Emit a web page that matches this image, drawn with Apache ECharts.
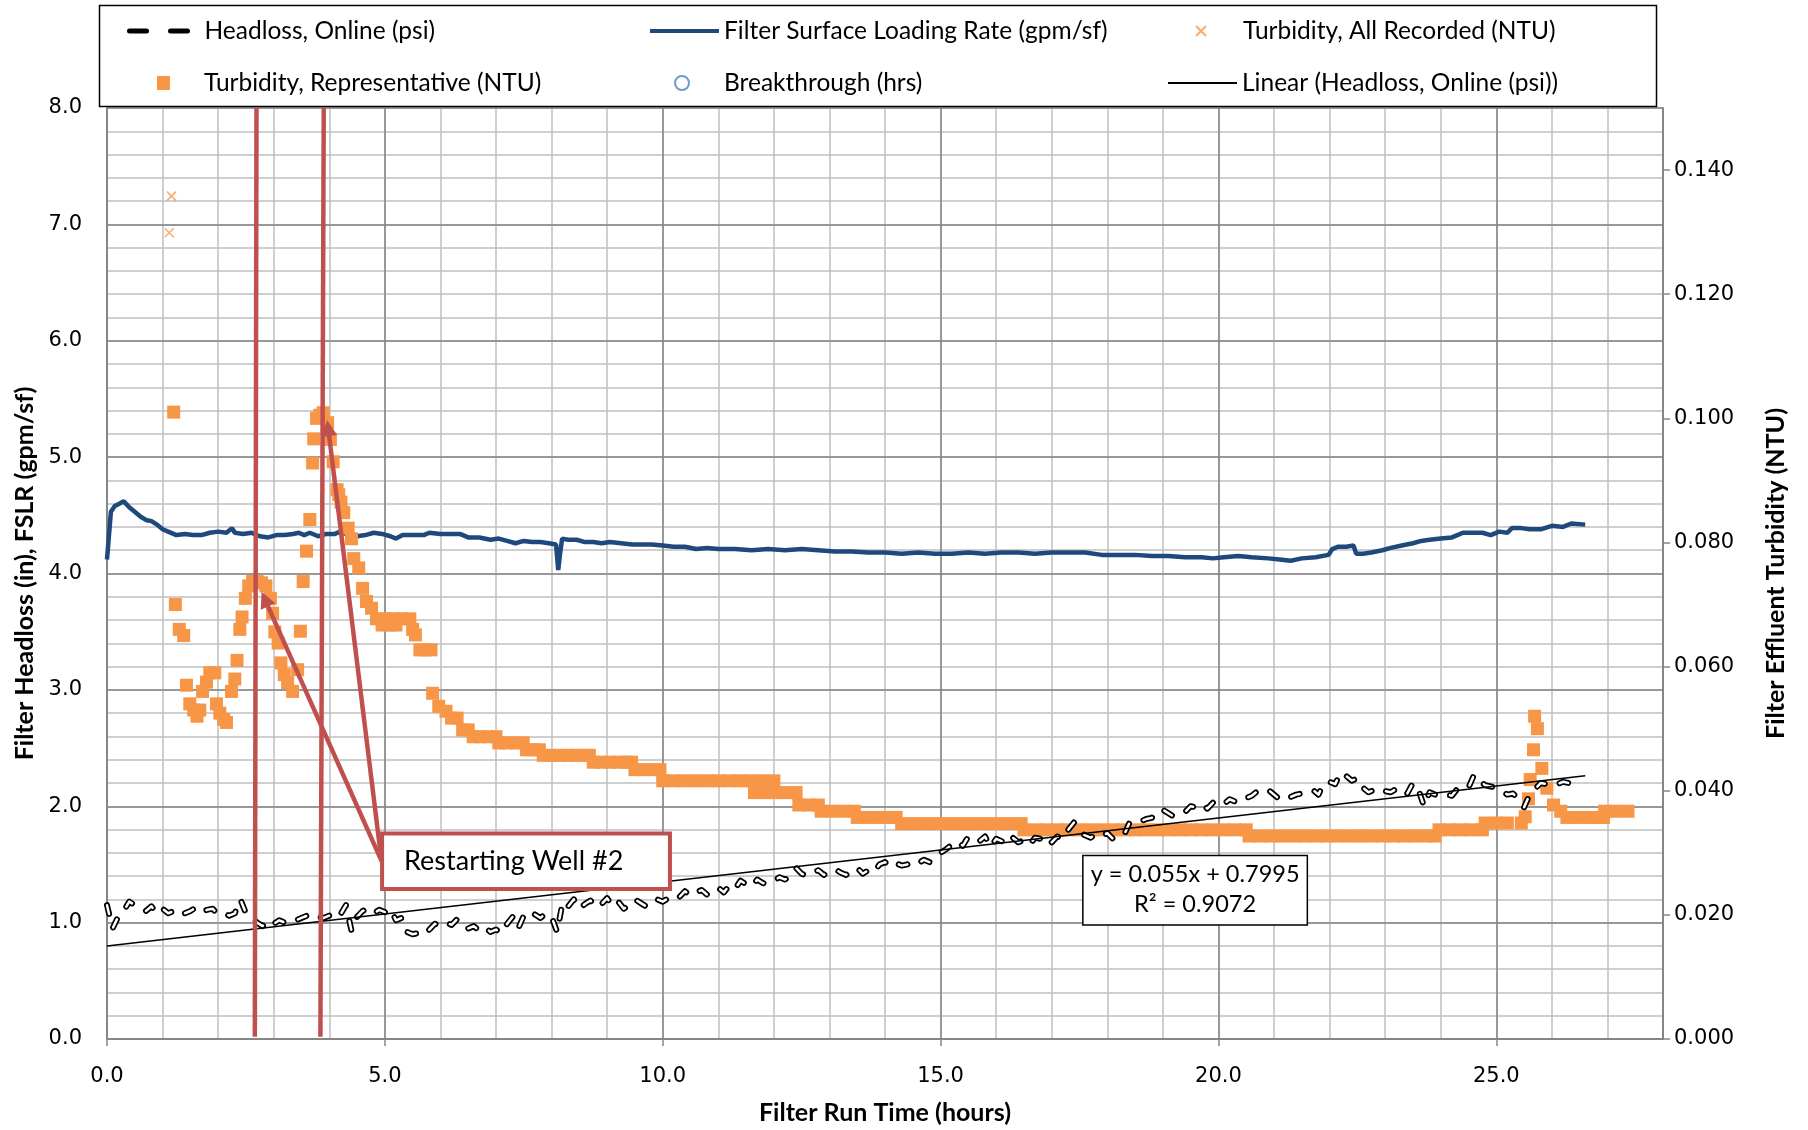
<!DOCTYPE html>
<html><head><meta charset="utf-8">
<script src="https://cdn.jsdelivr.net/npm/echarts@6/dist/echarts.min.js"></script>
<style>html,body{margin:0;padding:0;background:#fff}#c{width:1808px;height:1130px}</style>
</head><body><div id="c"></div>
<script>
// ---------- DATA ----------
const xTicks = [0, 5, 10, 15, 20, 25];
const leftTicks = [0, 1, 2, 3, 4, 5, 6, 7, 8];
const rightTicks = [0, 0.02, 0.04, 0.06, 0.08, 0.10, 0.12, 0.14];

// Headloss, Online (psi): one reading every 0.1 h starting at 0 h
const headlossStep = 0.1;
const headlossValues = [
 1.15,0.95,1.05,1.10,1.18,1.15,1.12,1.10,1.14,1.08,
 1.12,1.08,1.10,1.12,1.08,1.10,1.13,1.09,1.11,1.12,
 1.07,1.08,1.06,1.08,1.20,1.08,1.05,1.00,0.97,1.02,
 0.99,1.02,1.00,0.99,1.02,1.04,1.06,1.03,1.05,1.04,
 1.06,1.03,1.07,1.15,0.93,1.05,1.10,1.12,1.08,1.11,
 1.09,1.12,1.02,1.04,0.92,0.90,0.91,0.89,0.94,0.99,
 0.97,1.00,0.98,1.03,0.97,0.95,0.97,0.93,0.96,0.92,
 0.94,0.91,0.99,1.05,0.95,1.06,1.03,1.07,1.04,1.08,
 1.05,0.92,1.18,1.14,1.20,1.12,1.16,1.19,1.13,1.16,
 1.21,1.14,1.18,1.12,1.15,1.20,1.17,1.14,1.19,1.20,
 1.18,1.21,1.19,1.22,1.27,1.23,1.26,1.28,1.24,1.27,
 1.30,1.26,1.32,1.29,1.36,1.33,1.31,1.37,1.34,1.33,
 1.36,1.39,1.37,1.40,1.47,1.42,1.40,1.43,1.45,1.41,
 1.44,1.46,1.43,1.41,1.45,1.47,1.42,1.45,1.43,1.50,
 1.52,1.48,1.51,1.49,1.50,1.53,1.51,1.54,1.52,1.56,
 1.60,1.63,1.67,1.70,1.66,1.74,1.72,1.70,1.74,1.65,
 1.72,1.70,1.76,1.73,1.69,1.71,1.67,1.73,1.72,1.75,
 1.69,1.74,1.72,1.80,1.86,1.78,1.75,1.73,1.76,1.74,
 1.77,1.72,1.74,1.75,1.86,1.88,1.87,1.89,1.90,1.96,
 1.97,1.94,1.91,1.93,1.95,2.00,1.99,2.02,1.98,2.03,
 2.05,2.02,2.06,2.04,2.08,2.07,2.09,2.13,2.12,2.14,
 2.10,2.06,2.09,2.08,2.10,2.11,2.12,2.14,2.10,2.20,
 2.21,2.19,2.29,2.26,2.22,2.24,2.16,2.12,2.14,2.11,
 2.13,2.12,2.15,2.16,2.11,2.20,2.14,2.00,2.12,2.10,
 2.12,2.10,2.09,2.15,2.14,2.16,2.27,2.22,2.18,2.17,
 2.16,2.13,2.10,2.11,2.06,1.99,2.10,2.15,2.20,2.19,
 2.17,2.19,2.21,2.20,2.18,2.22
];

// Filter Surface Loading Rate (gpm/sf): [hours, value]
const fslr = [
 [0,4.12],[0.07,4.53],[0.14,4.58],[0.22,4.60],[0.3,4.62],[0.4,4.57],[0.5,4.53],[0.6,4.49],[0.7,4.46],[0.8,4.45],
 [0.9,4.42],[1.0,4.38],[1.1,4.36],[1.25,4.33],[1.4,4.34],[1.55,4.33],[1.7,4.33],[1.85,4.35],[2.0,4.36],[2.15,4.35],
 [2.25,4.39],[2.3,4.35],[2.45,4.34],[2.6,4.35],[2.75,4.32],[2.9,4.31],[3.05,4.33],[3.2,4.33],[3.35,4.34],[3.45,4.35],
 [3.55,4.33],[3.65,4.35],[3.8,4.32],[3.95,4.34],[4.1,4.34],[4.2,4.36],[4.35,4.33],[4.5,4.32],[4.65,4.33],[4.8,4.35],
 [4.95,4.34],[5.1,4.32],[5.2,4.30],[5.32,4.33],[5.5,4.33],[5.7,4.33],[5.8,4.35],[6.0,4.34],[6.2,4.34],[6.35,4.34],
 [6.5,4.31],[6.7,4.31],[6.9,4.29],[7.05,4.30],[7.2,4.28],[7.35,4.26],[7.5,4.28],[7.65,4.27],[7.8,4.27],[7.95,4.26],
 [8.08,4.25],[8.12,4.03],[8.15,4.16],[8.19,4.30],[8.3,4.29],[8.45,4.29],[8.6,4.27],[8.75,4.27],[8.9,4.26],[9.05,4.27],
 [9.25,4.26],[9.45,4.25],[9.6,4.25],[9.8,4.25],[10.0,4.24],[10.2,4.23],[10.4,4.23],[10.6,4.21],[10.8,4.22],[11.0,4.21],
 [11.3,4.21],[11.6,4.20],[11.9,4.21],[12.2,4.20],[12.5,4.21],[12.8,4.20],[13.1,4.19],[13.4,4.19],[13.7,4.18],[14.0,4.18],
 [14.3,4.17],[14.6,4.18],[14.9,4.17],[15.2,4.17],[15.5,4.18],[15.8,4.17],[16.1,4.18],[16.4,4.18],[16.7,4.17],[17.0,4.18],
 [17.3,4.18],[17.6,4.18],[17.9,4.16],[18.2,4.16],[18.5,4.16],[18.8,4.15],[19.1,4.15],[19.4,4.14],[19.7,4.14],[19.9,4.13],
 [20.1,4.14],[20.35,4.15],[20.6,4.14],[20.9,4.13],[21.1,4.12],[21.3,4.11],[21.5,4.13],[21.75,4.14],[21.98,4.16],[22.05,4.21],
 [22.15,4.23],[22.3,4.23],[22.43,4.24],[22.48,4.17],[22.6,4.17],[22.75,4.18],[22.95,4.20],[23.1,4.22],[23.3,4.24],[23.5,4.26],
 [23.65,4.28],[23.8,4.29],[24.0,4.30],[24.2,4.31],[24.3,4.33],[24.4,4.35],[24.6,4.35],[24.75,4.35],[24.9,4.33],[25.05,4.36],
 [25.2,4.35],[25.28,4.39],[25.45,4.39],[25.6,4.38],[25.8,4.38],[26.0,4.41],[26.2,4.40],[26.35,4.43],[26.6,4.42]
];

// Turbidity, Representative (NTU): [hours, NTU]
const turbRep = [
 [1.20,0.101],[1.23,0.070],[1.30,0.066],[1.38,0.065],[1.43,0.057],[1.49,0.054],[1.56,0.053],[1.62,0.052],[1.67,0.053],[1.72,0.056],
 [1.79,0.0575],[1.85,0.059],[1.94,0.059],[1.97,0.054],[2.03,0.0525],[2.10,0.0515],[2.15,0.051],[2.24,0.056],[2.30,0.058],[2.34,0.061],
 [2.39,0.066],[2.43,0.068],[2.49,0.071],[2.55,0.073],[2.62,0.0737],[2.70,0.0737],[2.78,0.0735],[2.86,0.073],[2.94,0.071],[2.98,0.0686],
 [3.02,0.0656],[3.08,0.0638],[3.13,0.0606],[3.19,0.0587],[3.25,0.0574],[3.34,0.056],[3.43,0.0595],[3.48,0.0657],[3.53,0.0737],[3.59,0.0786],
 [3.65,0.0837],[3.70,0.0928],[3.72,0.0967],[3.77,0.1000],[3.83,0.1005],[3.89,0.1009],[3.97,0.0993],[4.02,0.0966],[4.07,0.0930],[4.14,0.0885],
 [4.17,0.0877],[4.21,0.0865],[4.26,0.0848],[4.34,0.0823],[4.40,0.0806],[4.44,0.0774],[4.53,0.0759],[4.60,0.0726],[4.67,0.0705],[4.76,0.0694],
 [4.85,0.0677],[5.00,0.0677],[5.15,0.0677],[5.30,0.0677],[5.45,0.0677],[4.95,0.0667],[5.08,0.0667],[5.20,0.0667],
 [5.50,0.0660],[5.55,0.0651],[5.63,0.0627],[5.73,0.0627],[5.83,0.0627],
 [5.86,0.0557],[5.97,0.0536],[6.10,0.0528],[6.20,0.0517],[6.30,0.0517],[6.40,0.0498],[6.50,0.0498],
 [6.59,0.0487],[6.72,0.0487],[6.86,0.0487],[7.00,0.0487],
 [7.05,0.0477],[7.20,0.0477],[7.35,0.0477],[7.49,0.0477],
 [7.55,0.0466],[7.67,0.0466],[7.78,0.0466],
 [7.85,0.0457],[8.00,0.0457],[8.15,0.0457],[8.30,0.0457],[8.45,0.0457],[8.60,0.0457],[8.68,0.0457],
 [8.75,0.0446],[8.90,0.0446],[9.05,0.0446],[9.20,0.0446],[9.35,0.0446],[9.44,0.0446],
 [9.50,0.0434],[9.65,0.0434],[9.80,0.0434],[9.95,0.0434],
 [10.00,0.0416],[10.20,0.0416],[10.40,0.0416],[10.60,0.0416],[10.80,0.0416],[11.00,0.0416],[11.20,0.0416],[11.40,0.0416],[11.60,0.0416],[11.80,0.0416],[12.00,0.0416],
 [11.65,0.0397],[11.85,0.0397],[12.05,0.0397],[12.25,0.0397],[12.40,0.0397],
 [12.45,0.0377],[12.62,0.0377],[12.80,0.0377],
 [12.85,0.0367],[13.05,0.0367],[13.25,0.0367],[13.45,0.0367],
 [13.50,0.0357],[13.70,0.0357],[13.90,0.0357],[14.10,0.0357],[14.20,0.0357],
 [14.30,0.0347],[14.50,0.0347],[14.70,0.0347],[14.90,0.0347],[15.10,0.0347],[15.30,0.0347],[15.50,0.0347],[15.70,0.0347],[15.90,0.0347],[16.10,0.0347],[16.30,0.0347],[16.45,0.0347],
 [16.50,0.0337],[16.70,0.0337],[16.90,0.0337],[17.10,0.0337],[17.30,0.0337],[17.50,0.0337],[17.70,0.0337],[17.90,0.0337],[18.10,0.0337],[18.30,0.0337],[18.50,0.0337],
 [18.70,0.0337],[18.90,0.0337],[19.10,0.0337],[19.30,0.0337],[19.50,0.0337],[19.70,0.0337],[19.90,0.0337],[20.10,0.0337],[20.30,0.0337],[20.50,0.0337],
 [20.55,0.0327],[20.75,0.0327],[20.95,0.0327],[21.15,0.0327],[21.35,0.0327],[21.55,0.0327],[21.75,0.0327],[21.95,0.0327],[22.15,0.0327],
 [22.35,0.0327],[22.55,0.0327],[22.75,0.0327],[22.95,0.0327],[23.15,0.0327],[23.35,0.0327],[23.55,0.0327],[23.75,0.0327],[23.90,0.0327],
 [23.97,0.0337],[24.15,0.0337],[24.35,0.0337],[24.55,0.0337],[24.75,0.0337],
 [24.80,0.0348],[25.00,0.0348],[25.20,0.0348],[25.45,0.0348],
 [25.52,0.0358],[25.58,0.0387],[25.61,0.0418],[25.67,0.0466],[25.69,0.0520],[25.74,0.0500],[25.82,0.0436],[25.91,0.0404],[26.03,0.0377],[26.16,0.0367],
 [26.27,0.0357],[26.45,0.0357],[26.65,0.0357],[26.80,0.0357],[26.93,0.0357],
 [26.95,0.0367],[27.15,0.0367],[27.37,0.0367]
];

// Turbidity, All Recorded (NTU) - points not hidden under the representative squares
const turbAll = [[1.16,0.1358],[1.12,0.1299]];

// Breakthrough (hrs) - no points shown
const breakthrough = [];

// Linear trendline of headloss: y = 0.055x + 0.7995
const trendLine = [[0, 0.7995], [26.6, 2.2625]];
const trendLabel = ['y = 0.055x + 0.7995', 'R\u00B2 = 0.9072'];

// "Restarting Well #2" marker lines (hours at top / bottom of plot)
const restartLine1 = [[2.69, 8.0], [2.66, 0.02]];
const restartLine2 = [[3.90, 8.0], [3.84, 0.02]];
const calloutText = 'Restarting Well #2';

// ---------- CHART ----------
const headloss = headlossValues.map((v, i) => [Math.round(i * headlossStep * 100) / 100, v]);

const ORANGE = '#F79646', BLUE = '#1F497D', RED = '#C0504D', GRIDMAJ = '#868686', GRIDMIN = '#BFBFBF';
const TICKFONT = 'DejaVu Sans', TXTFONT = 'Lato';

const legendBase = (name, left, top, w, pad, extra) => Object.assign({
  data: [name], left: left, top: top, itemWidth: w, itemHeight: 14, selectedMode: false, padding: 0,
  textStyle: { fontFamily: TXTFONT, fontSize: 24.5, color: '#000', lineHeight: 26, padding: [0, 0, 0, pad] }
}, extra || {});

const chart = echarts.init(document.getElementById('c'));
const option = {
  animation: false,
  backgroundColor: '#fff',
  grid: { left: 107, right: 145, top: 108, bottom: 90 },
  legend: [
    legendBase('Headloss, Online (psi)', 127, 18, 59, 11, { itemStyle: { opacity: 0 }, lineStyle: { type: [17, 24], width: 5, cap: 'round', color: '#000' } }),
    legendBase('Filter Surface Loading Rate (gpm/sf)', 648, 18, 69, 0, { itemStyle: { opacity: 0 }, lineStyle: { width: 4 } }),
    legendBase('Turbidity, All Recorded (NTU)', 1195, 18, 10, 32),
    legendBase('Turbidity, Representative (NTU)', 157, 70, 13, 29),
    legendBase('Breakthrough (hrs)', 674, 70, 14, 30),
    legendBase('Linear (Headloss, Online (psi))', 1167, 70, 69, 0, { itemStyle: { opacity: 0 }, lineStyle: { width: 2 } })
  ],
  xAxis: [
    {
      type: 'value', min: 0, max: 28, interval: 5, position: 'bottom', z: 2,
      name: 'Filter Run Time (hours)', nameLocation: 'middle', nameGap: 61,
      nameTextStyle: { fontFamily: TXTFONT, fontWeight: 'bold', fontSize: 25, color: '#000' },
      axisLine: { onZero: false, lineStyle: { color: GRIDMAJ, width: 2 } },
      axisTick: { show: true, length: 7, lineStyle: { color: GRIDMAJ, width: 1.5 } },
      axisLabel: { formatter: v => v.toFixed(1), fontFamily: TICKFONT, fontSize: 21, color: '#000', margin: 27, showMaxLabel: false },
      splitLine: { show: true, lineStyle: { color: GRIDMAJ, width: 1.5 } }
    },
    {
      type: 'value', min: 0, max: 28, interval: 1, position: 'bottom', z: 1,
      axisLine: { show: false, onZero: false }, axisTick: { show: false }, axisLabel: { show: false },
      splitLine: { show: true, lineStyle: { color: GRIDMIN, width: 1.5 } }
    }
  ],
  yAxis: [
    {
      type: 'value', min: 0, max: 8, interval: 1, position: 'left', z: 2,
      name: 'Filter Headloss (in), FSLR (gpm/sf)', nameLocation: 'middle', nameGap: 69, nameRotate: 90,
      nameTextStyle: { fontFamily: TXTFONT, fontWeight: 'bold', fontSize: 25, color: '#000' },
      axisLine: { show: true, onZero: false, lineStyle: { color: GRIDMAJ, width: 2 } },
      axisTick: { show: false },
      axisLabel: { formatter: v => v.toFixed(1), fontFamily: TICKFONT, fontSize: 21, color: '#000', margin: 25, padding: [4, 0, 0, 0] },
      splitLine: { show: true, lineStyle: { color: GRIDMAJ, width: 1.5 } }
    },
    {
      type: 'value', min: 0, max: 0.15, interval: 0.02, position: 'right', z: 2,
      name: 'Filter Effluent Turbidity (NTU)', nameLocation: 'middle', nameGap: 100, nameRotate: 90,
      nameTextStyle: { fontFamily: TXTFONT, fontWeight: 'bold', fontSize: 25, color: '#000' },
      axisLine: { show: true, onZero: false, lineStyle: { color: GRIDMAJ, width: 2 } },
      axisTick: { show: true, length: 7, lineStyle: { color: GRIDMAJ, width: 1.5 } },
      axisLabel: { formatter: v => v.toFixed(3), fontFamily: TICKFONT, fontSize: 21, color: '#000', margin: 11, showMaxLabel: false, padding: [4, 0, 0, 0] },
      splitLine: { show: false }
    },
    {
      type: 'value', min: 0, max: 8, interval: 0.2, position: 'left', z: 1,
      axisLine: { show: false, onZero: false }, axisTick: { show: false }, axisLabel: { show: false },
      splitLine: { show: true, lineStyle: { color: GRIDMIN, width: 1.5 } }
    }
  ],
  series: [
    {
      name: 'Filter Surface Loading Rate (gpm/sf)', type: 'line', xAxisIndex: 0, yAxisIndex: 0, z: 2,
      data: fslr, symbol: 'none', itemStyle: { color: BLUE }, lineStyle: { color: BLUE, width: 4.5 }
    },
    {
      name: 'Turbidity, Representative (NTU)', type: 'scatter', xAxisIndex: 0, yAxisIndex: 1, z: 3,
      data: turbRep, symbol: 'rect', symbolSize: 13, itemStyle: { color: ORANGE, opacity: 1 }
    },
    {
      name: 'Turbidity, All Recorded (NTU)', type: 'scatter', xAxisIndex: 0, yAxisIndex: 1, z: 3,
      data: turbAll, symbol: 'path://M0,0L10,10M10,0L0,10', symbolSize: 9,
      itemStyle: { color: 'rgba(0,0,0,0)', borderColor: ORANGE, borderWidth: 1.5 }
    },
    {
      name: 'Breakthrough (hrs)', type: 'scatter', xAxisIndex: 0, yAxisIndex: 0, z: 3,
      data: breakthrough, symbol: 'emptyCircle', symbolSize: 14,
      itemStyle: { color: '#4F81BD', borderColor: '#4F81BD', borderWidth: 1.5 }
    },
    {
      name: 'Headloss, Online (psi)', type: 'line', xAxisIndex: 0, yAxisIndex: 0, z: 4,
      data: headloss, symbol: 'none', itemStyle: { color: '#000' },
      lineStyle: { color: '#000', width: 6, type: [9, 16], cap: 'round', join: 'round' }
    },
    {
      name: 'hl-inner', type: 'line', xAxisIndex: 0, yAxisIndex: 0, z: 4,
      data: headloss, symbol: 'none', silent: true,
      lineStyle: { color: '#fff', width: 2.5, type: [9, 16], cap: 'round', join: 'round' }
    },
    {
      name: 'Linear (Headloss, Online (psi))', type: 'line', xAxisIndex: 0, yAxisIndex: 0, z: 4,
      data: trendLine, symbol: 'none', itemStyle: { color: '#000' }, lineStyle: { color: '#000', width: 1.5 }
    },
    {
      name: 'restart-1', type: 'line', xAxisIndex: 0, yAxisIndex: 0, z: 6, clip: false,
      data: restartLine1, symbol: 'none', lineStyle: { color: RED, width: 4.5 }, silent: true
    },
    {
      name: 'restart-2', type: 'line', xAxisIndex: 0, yAxisIndex: 0, z: 6, clip: false,
      data: restartLine2, symbol: 'none', lineStyle: { color: RED, width: 4.5 }, silent: true,
      markLine: {
        silent: true, symbol: ['none', 'triangle'], symbolSize: 16, animation: false,
        lineStyle: { color: RED, width: 4.5, type: 'solid' }, label: { show: false },
        data: [
          [{ coord: [4.94, 1.53] }, { coord: [2.84, 3.78] }],
          [{ coord: [4.94, 1.53] }, { coord: [3.98, 5.25] }]
        ]
      }
    }
  ]
};
chart.setOption(option);

const P = (x, y) => chart.convertToPixel({ xAxisIndex: 0, yAxisIndex: 0 }, [x, y]);
const c1 = P(4.95, 1.765), c2 = P(10.13, 1.29);
const e1 = P(17.56, 1.577), e2 = P(21.6, 0.98);
const ecx = (e1[0] + e2[0]) / 2;
chart.setOption({
  graphic: [
    { type: 'rect', z: 100, silent: true, shape: { x: 99.5, y: 5.5, width: 1557, height: 101 },
      style: { fill: 'none', stroke: '#000', lineWidth: 1.5 } },
    { type: 'rect', z: 100, silent: true, shape: { x: c1[0], y: c1[1], width: c2[0] - c1[0], height: c2[1] - c1[1] },
      style: { fill: '#fff', stroke: RED, lineWidth: 4 } },
    { type: 'text', z: 101, silent: true, style: { text: calloutText, x: c1[0] + 22, y: (c1[1] + c2[1]) / 2,
      fontFamily: TXTFONT, fontSize: 27, fill: '#000', align: 'left', verticalAlign: 'middle' } },
    { type: 'rect', z: 100, silent: true, shape: { x: e1[0], y: e1[1], width: e2[0] - e1[0], height: e2[1] - e1[1] },
      style: { fill: '#fff', stroke: '#000', lineWidth: 1.5 } },
    { type: 'text', z: 101, silent: true, style: { text: trendLabel[0], x: ecx, y: e1[1] + 19,
      fontFamily: TXTFONT, fontSize: 23.5, fill: '#000', align: 'center', verticalAlign: 'middle' } },
    { type: 'text', z: 101, silent: true, style: { text: trendLabel[1], x: ecx, y: e1[1] + 49,
      fontFamily: TXTFONT, fontSize: 23.5, fill: '#000', align: 'center', verticalAlign: 'middle' } }
  ]
});
</script></body></html>
